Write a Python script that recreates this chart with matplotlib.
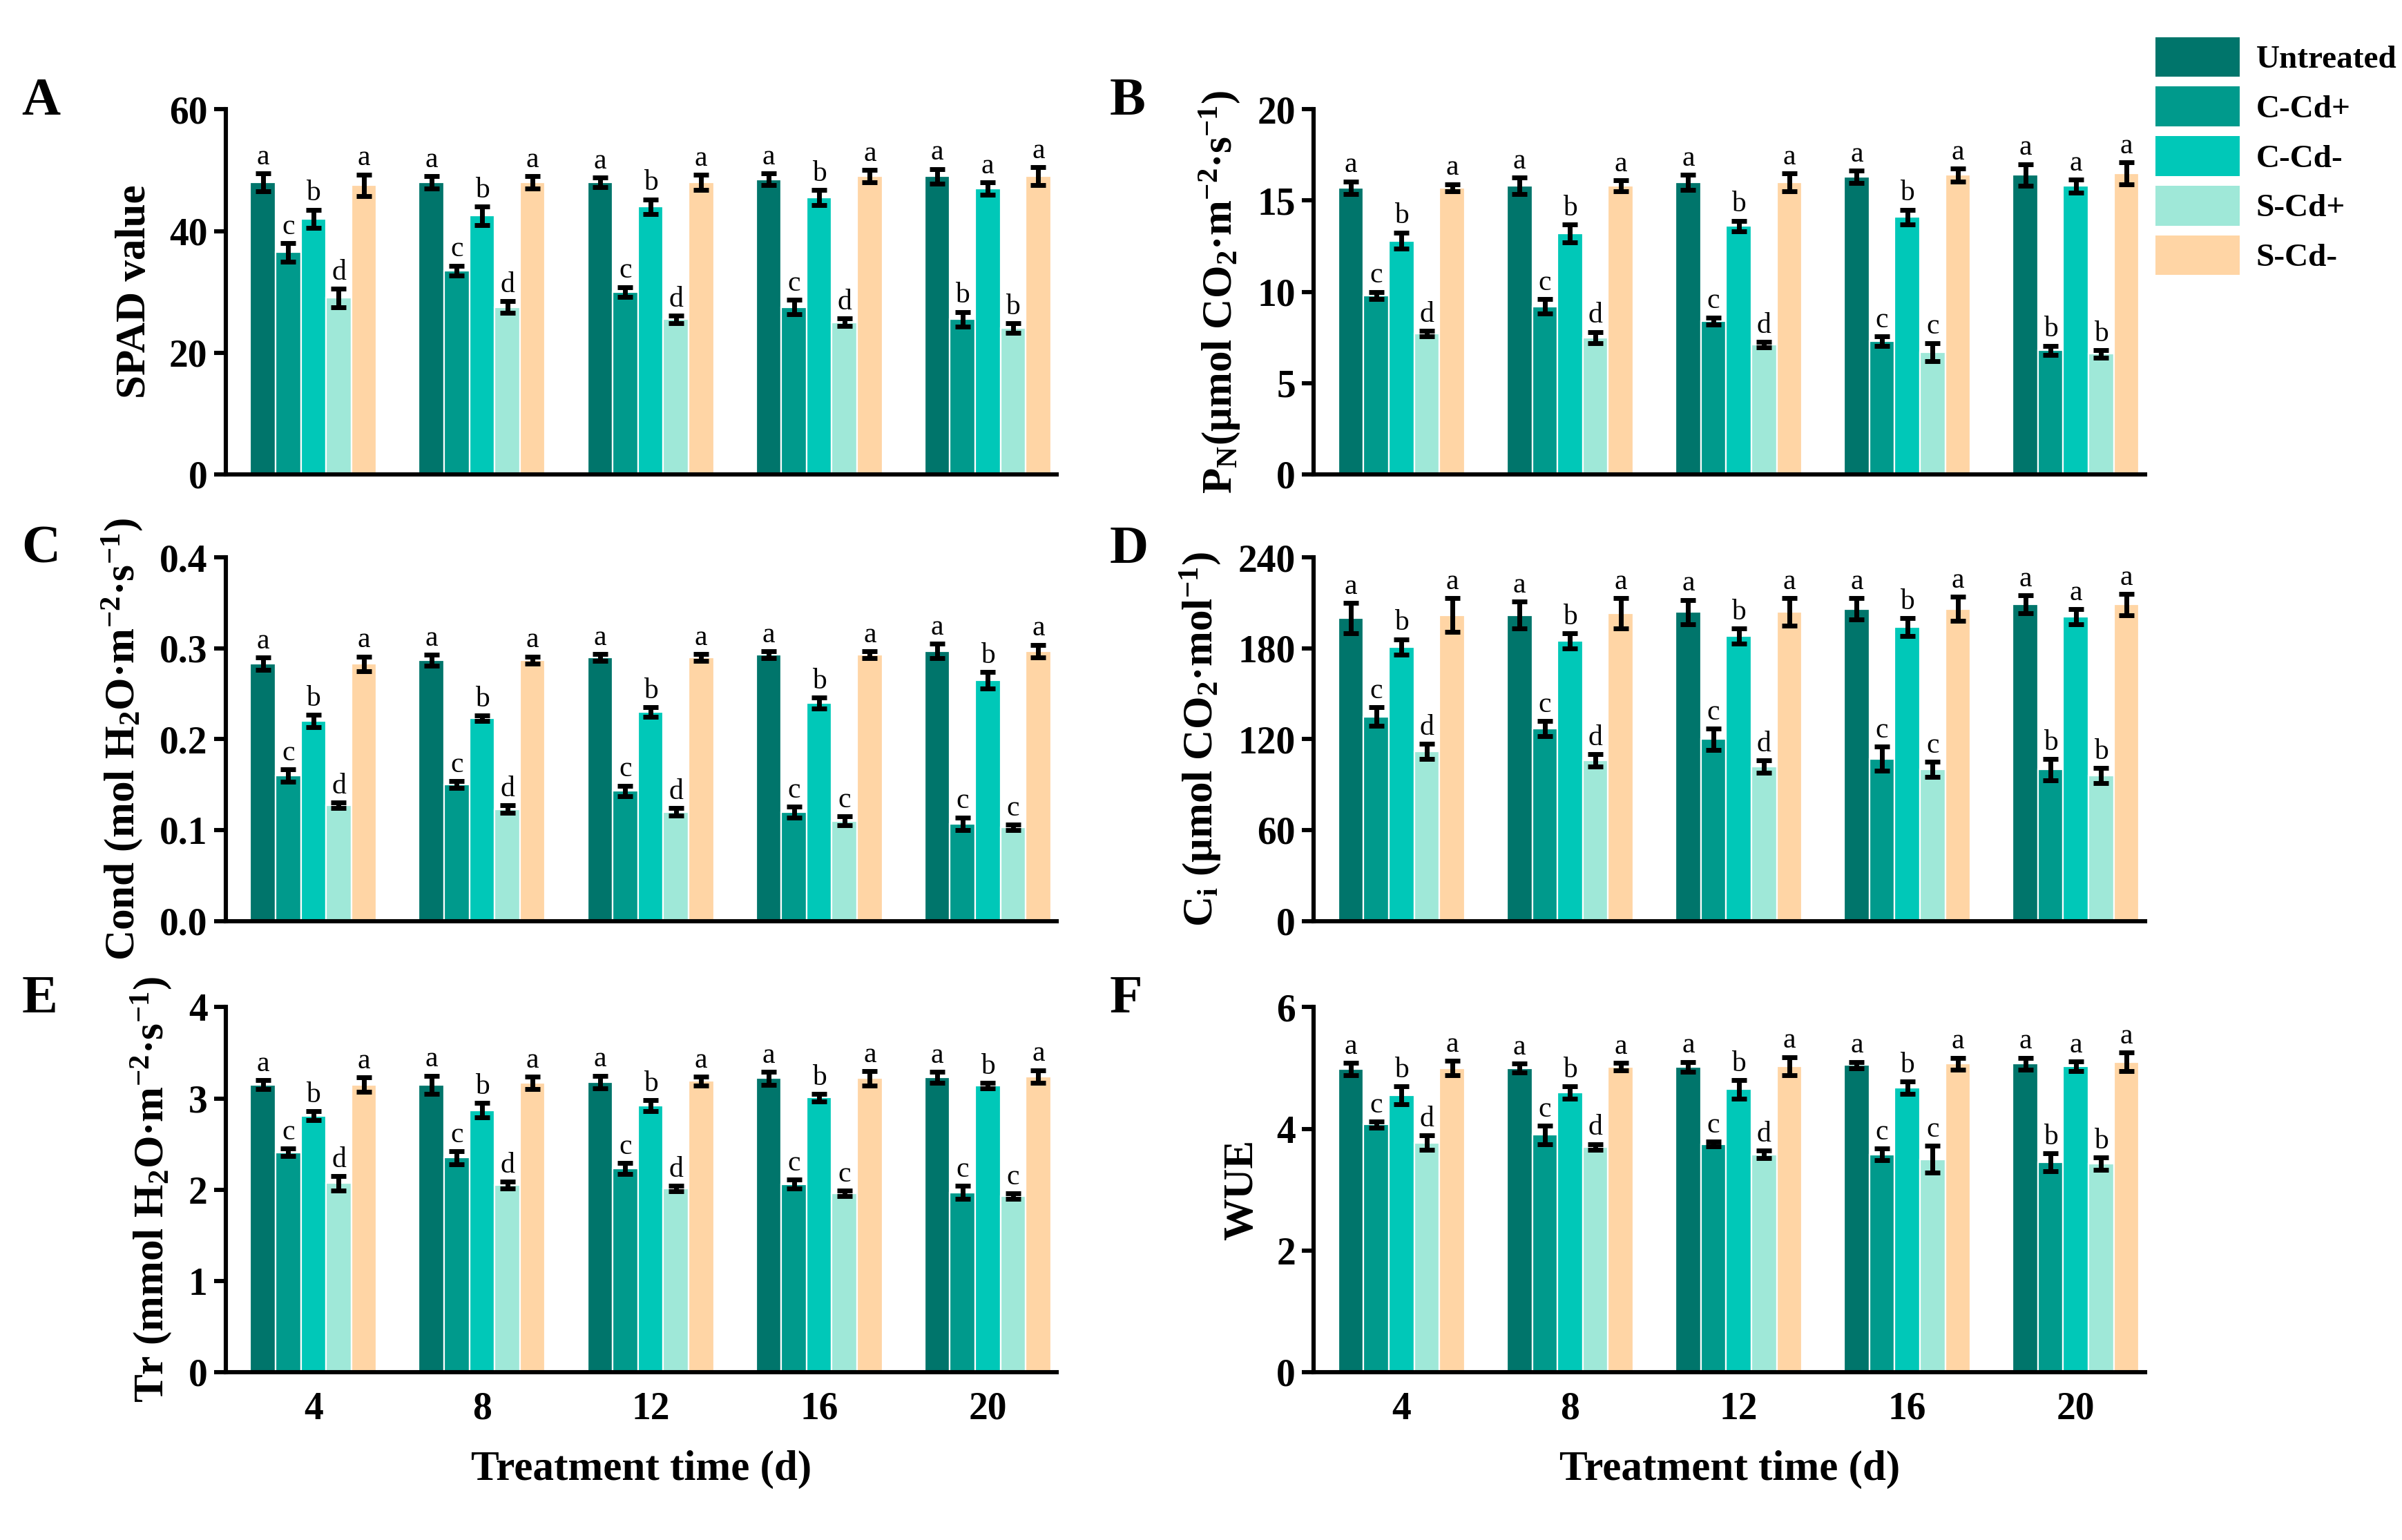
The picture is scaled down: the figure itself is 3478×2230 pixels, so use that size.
import matplotlib
matplotlib.use("Agg")
import matplotlib.pyplot as plt
import numpy as np
from matplotlib.patches import Patch

plt.rcParams.update({
    "font.family": "Liberation Serif", "font.weight": "bold",
    "mathtext.fontset": "custom", "mathtext.rm": "Liberation Serif:bold",
    "mathtext.it": "Liberation Serif:bold", "mathtext.bf": "Liberation Serif:bold",
    "axes.linewidth": 2.2,
})

days = ["4", "8", "12", "16", "20"]
treatments = ["Untreated", "C-Cd+", "C-Cd-", "S-Cd+", "S-Cd-"]
colors = ["#00756B", "#009A8C", "#00C8B8", "#9FE8D8", "#FFD5A5"]

spad = [[48, 48, 48, 48.5, 49], [36.5, 33.5, 30, 27.5, 25.5], [42, 42.5, 44, 45.5, 47],
        [29, 27.5, 25.5, 25, 24], [47.5, 48, 48, 49, 49]]
spad_err = [[1.5, 1, 0.8, 1, 1.2], [1.5, 0.8, 0.8, 1.2, 1.2], [1.5, 1.5, 1.2, 1.2, 1.0],
            [1.5, 1.0, 0.6, 0.6, 0.8], [1.8, 1.0, 1.2, 1.0, 1.5]]
pn = [[15.7, 15.8, 16.0, 16.3, 16.4], [9.8, 9.2, 8.4, 7.3, 6.8], [12.8, 13.2, 13.6, 14.1, 15.8],
      [7.7, 7.5, 7.1, 6.7, 6.6], [15.7, 15.8, 16.0, 16.4, 16.5]]
pn_err = [[0.35, 0.45, 0.4, 0.35, 0.6], [0.2, 0.4, 0.2, 0.25, 0.25], [0.45, 0.5, 0.3, 0.4, 0.35],
          [0.15, 0.3, 0.15, 0.5, 0.2], [0.2, 0.3, 0.5, 0.35, 0.6]]
cond = [[0.283, 0.287, 0.290, 0.293, 0.297], [0.160, 0.150, 0.143, 0.120, 0.107],
        [0.220, 0.223, 0.230, 0.240, 0.265], [0.127, 0.123, 0.120, 0.110, 0.103],
        [0.283, 0.287, 0.290, 0.293, 0.297]]
cond_err = [[0.007, 0.006, 0.004, 0.004, 0.008], [0.007, 0.004, 0.006, 0.006, 0.007],
            [0.007, 0.003, 0.005, 0.006, 0.009], [0.003, 0.004, 0.004, 0.005, 0.003],
            [0.008, 0.004, 0.004, 0.004, 0.007]]
ci = [[200, 202, 204, 206, 209], [135, 127, 120, 107, 100], [181, 185, 188, 194, 201],
      [112, 106, 102, 100, 96], [202, 203, 204, 206, 209]]
ci_err = [[10, 9, 8, 7, 6], [6, 5, 7, 8, 7], [5, 5, 5, 6, 5], [5, 4, 4, 5, 5], [11, 10, 9, 8, 7]]
tr = [[3.15, 3.15, 3.18, 3.22, 3.23], [2.41, 2.35, 2.23, 2.06, 1.97], [2.81, 2.87, 2.92, 3.01, 3.14],
      [2.07, 2.05, 2.01, 1.96, 1.93], [3.15, 3.17, 3.19, 3.22, 3.24]]
tr_err = [[0.05, 0.1, 0.07, 0.07, 0.06], [0.04, 0.07, 0.06, 0.05, 0.07], [0.05, 0.08, 0.06, 0.04, 0.03],
          [0.08, 0.04, 0.03, 0.03, 0.03], [0.08, 0.07, 0.05, 0.08, 0.07]]
wue = [[4.98, 5.0, 5.02, 5.05, 5.07], [4.07, 3.9, 3.75, 3.58, 3.45], [4.55, 4.6, 4.65, 4.68, 5.03],
       [3.77, 3.7, 3.58, 3.5, 3.43], [5.0, 5.02, 5.03, 5.07, 5.1]]
wue_err = [[0.1, 0.07, 0.08, 0.05, 0.1], [0.05, 0.15, 0.04, 0.1, 0.15], [0.15, 0.1, 0.15, 0.1, 0.08],
           [0.12, 0.05, 0.06, 0.22, 0.1], [0.12, 0.06, 0.15, 0.1, 0.15]]

# letters[group] = letters for 5 treatments
let_A = ["acbda", "acbda", "acbda", "acbda", "ababa"]
let_B = ["acbda", "acbda", "acbda", "acbca", "ababa"]
let_C = ["acbda", "acbda", "acbda", "acbca", "acbca"]
let_D = ["acbda", "acbda", "acbda", "acbca", "ababa"]
let_E = ["acbda", "acbda", "acbda", "acbca", "acbca"]
let_F = ["acbda", "acbda", "acbda", "acbca", "ababa"]

panels = [
    ("A", spad, spad_err, let_A, "SPAD value", 60, [0, 20, 40, 60], ["0", "20", "40", "60"]),
    ("B", pn, pn_err, let_B, r"P$_\mathrm{N}$(μmol CO$_\mathrm{2}$·m$^\mathrm{-2}$·s$^\mathrm{-1}$)", 20,
     [0, 5, 10, 15, 20], ["0", "5", "10", "15", "20"]),
    ("C", cond, cond_err, let_C, r"Cond (mol H$_\mathrm{2}$O·m$^\mathrm{-2}$·s$^\mathrm{-1}$)", 0.4,
     [0, 0.1, 0.2, 0.3, 0.4], ["0.0", "0.1", "0.2", "0.3", "0.4"]),
    ("D", ci, ci_err, let_D, r"C$_\mathrm{i}$ (μmol CO$_\mathrm{2}$·mol$^\mathrm{-1}$)", 240,
     [0, 60, 120, 180, 240], ["0", "60", "120", "180", "240"]),
    ("E", tr, tr_err, let_E, r"Tr (mmol H$_\mathrm{2}$O·m$^\mathrm{-2}$·s$^\mathrm{-1}$)", 4,
     [0, 1, 2, 3, 4], ["0", "1", "2", "3", "4"]),
    ("F", wue, wue_err, let_F, "WUE", 6, [0, 2, 4, 6], ["0", "2", "4", "6"]),
]

fig = plt.figure(figsize=(17.39, 11.15), dpi=200)
lefts = [0.094, 0.547]
width = 0.346
rows = [(0.692, 0.237), (0.402, 0.236), (0.109, 0.237)]
x = np.arange(len(days))
bw = 0.15

for i, (lab, vals, errs, lets, ylab, ymax, yt, ytl) in enumerate(panels):
    r, c = divmod(i, 2)
    ax = fig.add_axes([lefts[c], rows[r][0], width, rows[r][1]])
    for j in range(5):
        pos = x + (j - 2) * bw
        ax.bar(pos, vals[j], bw, color=colors[j], edgecolor="white", linewidth=0.8, zorder=2)
        ax.errorbar(pos, vals[j], yerr=errs[j], fmt="none", ecolor="black", elinewidth=2.5,
                    capsize=4, capthick=2.5, zorder=3)
        for g in range(5):
            ax.text(pos[g], vals[j][g] + errs[j][g] + ymax * 0.008, lets[g][j],
                    ha="center", va="bottom", fontsize=15, fontweight="normal")
    ax.set_xlim(-0.52, 4.41)
    ax.set_ylim(0, ymax)
    ax.set_yticks(yt)
    ax.set_yticklabels(ytl, fontsize=20, fontweight="bold")
    ax.set_xticks(x)
    if r == 2:
        ax.set_xticklabels(days, fontsize=20, fontweight="bold")
        ax.set_xlabel("Treatment time (d)", fontsize=22, fontweight="bold", labelpad=12)
    else:
        ax.set_xticklabels([])
    ax.tick_params(axis="y", direction="out", length=6, width=2.2)
    ax.tick_params(axis="x", length=0, pad=10)
    ax.spines["top"].set_visible(False)
    ax.spines["right"].set_visible(False)
    ax.set_ylabel(ylab, fontsize=22, fontweight="bold", labelpad=8)
    fig.text(lefts[c] - 0.085, rows[r][0] + rows[r][1] + 0.005, lab, fontsize=28,
             fontweight="bold", va="center", ha="left")

handles = [Patch(facecolor=colors[k], edgecolor="none") for k in range(5)]
fig.legend(handles, treatments, loc="upper left", bbox_to_anchor=(0.885, 0.995), frameon=False,
           prop={"family": "Liberation Serif", "weight": "bold", "size": 17},
           handlelength=2.6, handleheight=1.5, labelspacing=0.3, handletextpad=0.5)

fig.savefig("out.png", dpi=200)
